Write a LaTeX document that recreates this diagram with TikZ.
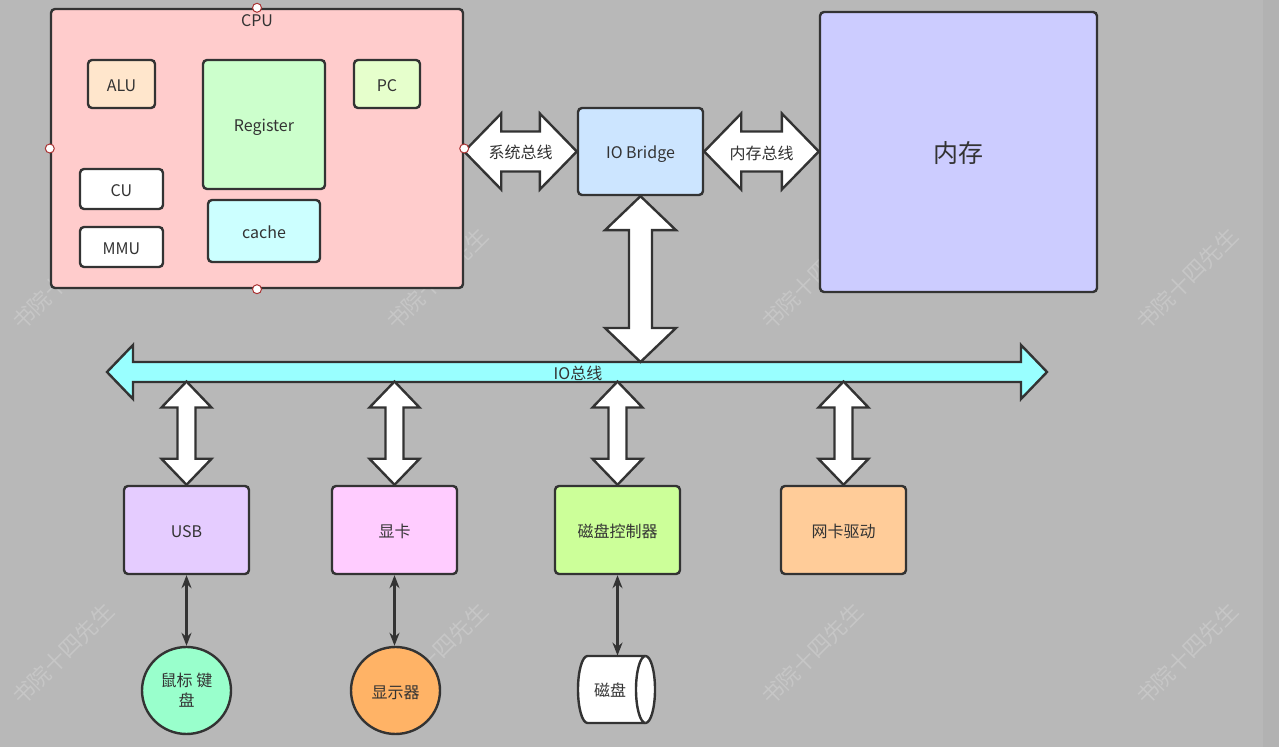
\documentclass[tikz,border=0pt]{standalone}
\usepackage{fontspec}
\setmainfont{Noto Sans CJK SC}
\definecolor{ink}{HTML}{333333}
\definecolor{canvas}{HTML}{B8B8B8}
\definecolor{edge}{HTML}{B2B2B2}
\definecolor{wmk}{HTML}{C6C6C6}
\definecolor{handlered}{HTML}{AA3333}
\definecolor{cpufill}{HTML}{FFCCCC}
\definecolor{alufill}{HTML}{FFE6CC}
\definecolor{regfill}{HTML}{CCFFCC}
\definecolor{pcfill}{HTML}{E6FFCC}
\definecolor{cachefill}{HTML}{CCFFFF}
\definecolor{bridgefill}{HTML}{CCE5FF}
\definecolor{memfill}{HTML}{CCCCFF}
\definecolor{busfill}{HTML}{99FFFF}
\definecolor{usbfill}{HTML}{E5CCFF}
\definecolor{gpufill}{HTML}{FFCCFF}
\definecolor{diskfill}{HTML}{CCFF99}
\definecolor{nicfill}{HTML}{FFCC99}
\definecolor{mousefill}{HTML}{99FFCC}
\definecolor{monfill}{HTML}{FFB366}
\usetikzlibrary{arrows.meta, positioning, calc, shapes.geometric}
\tikzset{
  box/.style={draw=ink, line width=1.2pt, rounded corners=2pt, align=center,
              font=\fontsize{8}{10}\selectfont, text=ink, inner sep=1pt,
              text height=7.5pt, text depth=0pt},
  blob/.style={box, ellipse, rounded corners=0pt},
  bigarrow/.style={draw=ink, line width=1.2pt, fill=white, line join=miter},
  cyl/.style={draw=ink, line width=1.2pt, fill=white},
  link/.style={{Stealth[length=6.5pt,width=5pt]}-{Stealth[length=6.5pt,width=5pt]},
               line width=1.5pt, draw=ink},
  lbl/.style={font=\fontsize{8}{10}\selectfont, text=ink, inner sep=0pt,
              text height=7.5pt, text depth=0pt},
  handle/.style={circle, draw=handlered, fill=white, line width=0.5pt,
                 inner sep=0pt, minimum size=4.5pt},
  wmark/.style={font=\fontsize{11}{11}\selectfont, text=wmk, rotate=45},
}
% horizontal block arrow with two heads: [style]{left}{right}{half shaft}{half head}{head length}
\newcommand{\hdbl}[6][]{%
  \draw[bigarrow,#1] let \p1=(#2), \p2=(#3) in
    (\x1,\y1) -- (\x1+#6,\y1+#5) -- (\x1+#6,\y1+#4) -- (\x2-#6,\y1+#4)
    -- (\x2-#6,\y1+#5) -- (\x2,\y1) -- (\x2-#6,\y1-#5) -- (\x2-#6,\y1-#4)
    -- (\x1+#6,\y1-#4) -- (\x1+#6,\y1-#5) -- cycle;}
% vertical block arrow with two heads: [style]{top}{bottom}{half shaft}{half head}{head length}
\newcommand{\vdbl}[6][]{%
  \draw[bigarrow,#1] let \p1=(#2), \p2=(#3) in
    (\x1,\y1) -- (\x1+#5,\y1-#6) -- (\x1+#4,\y1-#6) -- (\x1+#4,\y2+#6)
    -- (\x1+#5,\y2+#6) -- (\x1,\y2) -- (\x1-#5,\y2+#6) -- (\x1-#4,\y2+#6)
    -- (\x1-#4,\y1-#6) -- (\x1-#5,\y1-#6) -- cycle;}

\begin{document}
\begin{tikzpicture}[x=0.5pt,y=-0.5pt]
\useasboundingbox (0,0) rectangle (1279,747);
\fill[canvas] (0,0) rectangle (1279,747);
\fill[edge] (1263,0) rectangle (1279,747);
\foreach \wx in {63,437,812,1187}
  \foreach \wy in {279,654}
    \node[wmark] at (\wx,\wy) {书院十四先生};

% CPU and its parts
\node[box, fill=cpufill, minimum width=206pt, minimum height=139.5pt] (cpu) at (257,148.5) {};
\node[lbl] (cpulbl) at ([yshift=-5.5pt]cpu.north) {CPU};
\node[box, fill=alufill, minimum width=33.5pt, minimum height=24pt] (alu) at (121.5,84) {ALU};
\node[box, fill=regfill, minimum width=61pt, minimum height=64.5pt] (reg) at (264,124.5) {Register};
\node[box, fill=pcfill, minimum width=33pt, minimum height=24pt] (pc) at (387,84) {PC};
\node[box, fill=white, minimum width=41.5pt, minimum height=20pt] (cu) at (121.5,189) {CU};
\node[box, fill=white, minimum width=41.5pt, minimum height=20pt] (mmu) at (121.5,247) {MMU};
\node[box, fill=cachefill, minimum width=56pt, minimum height=31pt] (cache) at (264,231) {cache};

\node[box, fill=bridgefill, minimum width=62.5pt, minimum height=43.5pt] (bridge) at (640.5,151.5) {IO Bridge};
\node[box, fill=memfill, minimum width=138.5pt, minimum height=140pt,
      font=\fontsize{12.5}{14}\selectfont, text height=11pt] (mem) at (958.5,152) {内存};

% devices
\node[box, fill=usbfill, minimum width=62.5pt, minimum height=44pt] (usb) at (186.5,530) {USB};
\node[box, fill=gpufill, minimum width=62.5pt, minimum height=44pt] (gpu) at (394.5,530) {显卡};
\node[box, fill=diskfill, minimum width=62.5pt, minimum height=44pt] (diskctl) at (617.5,530) {磁盘控制器};
\node[box, fill=nicfill, minimum width=62.5pt, minimum height=44pt] (nic) at (843.5,530) {网卡驱动};

\node[blob, fill=mousefill, minimum width=44.5pt, minimum height=43.5pt,
      text height=, text depth=] (mouse) at (186.5,690.5) {鼠标 键\\盘};
\node[blob, fill=monfill, minimum width=44.5pt, minimum height=43.5pt] (monitor) at (395.5,690.5) {显示器};
\coordinate (diskc) at (616.5,689.5);
\draw[cyl] ($(diskc)+(-14.5pt,16.75pt)$) -- ++(29pt,0pt)
  arc[start angle=90, end angle=-90, x radius=4.75pt, y radius=16.75pt] -- ++(-29pt,0pt)
  arc[start angle=270, end angle=90, x radius=4.75pt, y radius=16.75pt] -- cycle;
\draw[cyl] ($(diskc)+(14.5pt,16.75pt)$)
  arc[start angle=90, end angle=270, x radius=4.75pt, y radius=16.75pt];
\node[lbl, minimum height=33.5pt] (disk) at (610,689.5) {磁盘};

% buses
\coordinate (busL) at (107,372);
\coordinate (busR) at (1047,372);
\coordinate (bustop) at (0,362);
\coordinate (busbot) at (0,381.5);
\hdbl{cpu.east |- bridge.west}{bridge.west}{10pt}{19pt}{18.5pt}
\node[lbl] (sysbus) at ($(cpu.east |- bridge.west)!0.5!(bridge.west)$) {系统总线};
\hdbl{bridge.east}{mem.west}{10pt}{19pt}{18.5pt}
\node[lbl] (membus) at ($(bridge.east)!0.5!(mem.west)$) {内存总线};
\hdbl[fill=busfill]{busL}{busR}{5pt}{13.5pt}{13pt}
\node[lbl] (iobus) at (578,372) {IO总线};
\vdbl{bridge.south}{bridge.south |- bustop}{5.75pt}{17.75pt}{17pt}
\foreach \dev in {usb,gpu,diskctl,nic}{
  \vdbl{\dev.north |- busbot}{\dev.north}{4.5pt}{12.5pt}{13pt}
}

% device links
\draw[link] (usb.south) -- (usb.south |- mouse.north);
\draw[link] (gpu.south) -- (gpu.south |- monitor.north);
\draw[link] (diskctl.south) -- (diskctl.south |- disk.north);

% selection handles
\foreach \side in {north,west,east,south}
  \node[handle] at (cpu.\side) {};
\end{tikzpicture}
\end{document}
